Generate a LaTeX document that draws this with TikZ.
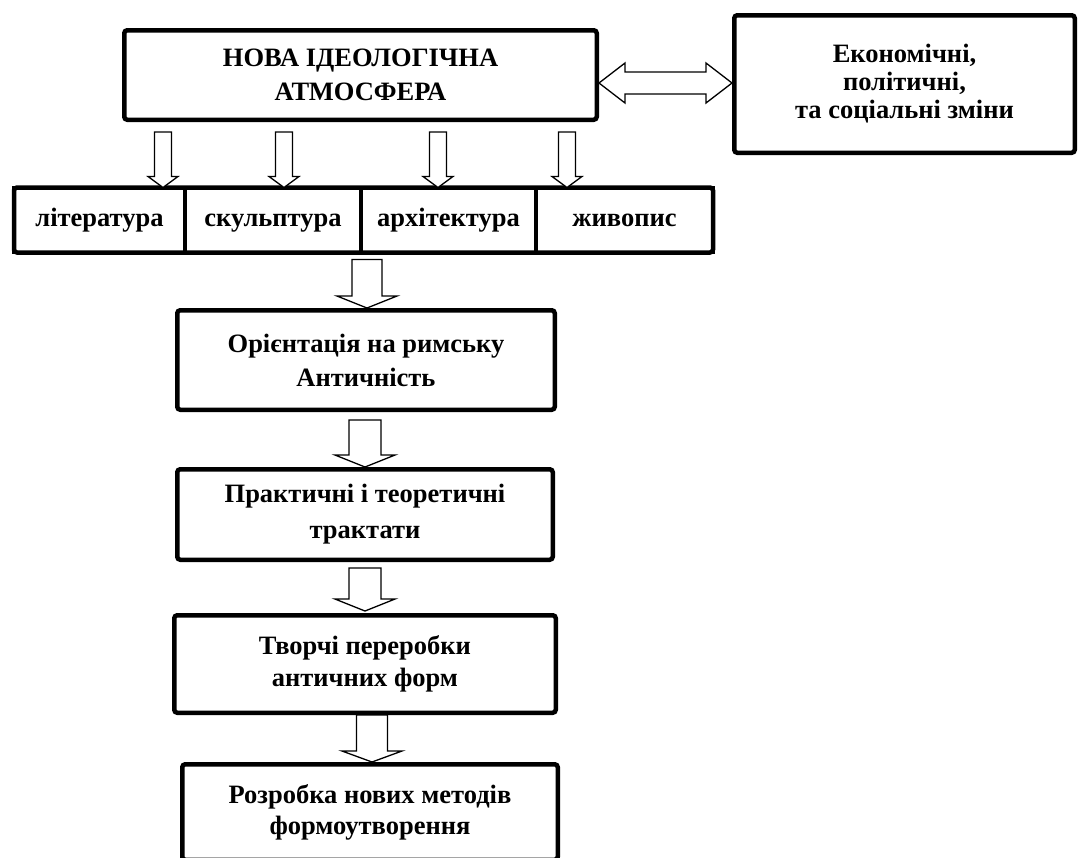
\documentclass[tikz,border=0pt]{standalone}
\usepackage{fontspec}
\setmainfont{Liberation Serif}
\usetikzlibrary{calc, positioning}

\tikzset{
  box/.style={draw, line width=4.5pt, rounded corners=3pt, align=center, inner sep=0pt,
    font=\bfseries\fontsize{26.5}{34}\selectfont},
  cell/.style={draw, line width=3.5pt, outer sep=0pt, inner sep=0pt, minimum height=65pt,
    text height=18pt, text depth=6pt, font=\bfseries\fontsize{26.5}{30}\selectfont},
  hollow/.style={draw, line width=1.3pt, fill=white, line join=miter},
}

% hollow block arrow: start, tip, shaft half width, head half width, head length
\newcommand{\hollowarrow}[5]{%
  \draw[hollow] let \p1=(#1), \p2=(#2) in
    (\x1-#3,\y1) -- (\x1+#3,\y1) -- (\x1+#3,\y2+#5) -- (\x1+#4,\y2+#5)
    -- (\x1,\y2) -- (\x1-#4,\y2+#5) -- (\x1-#3,\y2+#5) -- cycle;}

\begin{document}
\begin{tikzpicture}[x=1pt, y=1pt]
  \useasboundingbox (0,0) rectangle (1079,-857);
  \clip (0,0) rectangle (1079,-857);
  % Top boxes
  \node[box, minimum width=472.5pt, minimum height=89.5pt] (ideo) at (360.5,-75)
    {НОВА ІДЕОЛОГІЧНА\\АТМОСФЕРА};
  \node[box, minimum width=340.5pt, minimum height=137.5pt,
    font=\bfseries\fontsize{26.5}{28}\selectfont] (econ) at (904.5,-84)
    {Економічні,\\політичні,\\та соціальні зміни};
  % Arts row
  \node[cell, minimum width=171pt] (lit) at (99.5,-220) {література};
  \node[cell, minimum width=176pt, right=0pt of lit] (sculp) {скульптура};
  \node[cell, minimum width=175pt, right=0pt of sculp] (arch) {архітектура};
  \node[cell, minimum width=177pt, right=0pt of arch] (paint) {живопис};
  \draw[line width=4.5pt, rounded corners=3pt] (lit.north west) rectangle (paint.south east);
  % Chain of boxes
  \node[box, minimum width=377.5pt, minimum height=99.5pt] (orient) at (366,-360)
    {Орієнтація на римську\\Античність};
  \node[box, minimum width=375.5pt, minimum height=90.5pt, font=\bfseries\fontsize{26.5}{36}\selectfont]
    (pract) at (365,-514.5) {Практичні і теоретичні\\трактати};
  \node[box, minimum width=381.5pt, minimum height=97.5pt, font=\bfseries\fontsize{26.5}{32}\selectfont]
    (creat) at (365,-664) {Творчі переробки\\античних форм};
  \node[box, minimum width=375.5pt, minimum height=95.5pt, font=\bfseries\fontsize{26.5}{31}\selectfont]
    (newm) at (370,-812) {Розробка нових методів\\формоутворення};
  % Double arrow
  \draw[hollow] let \p1=($(ideo.east)+(0,-8)$), \p2=(econ.west) in
    (\x1,\y1) -- (\x1+26pt,\y1+20pt) -- (\x1+26pt,\y1+11pt) -- (\x2-26pt,\y1+11pt)
    -- (\x2-26pt,\y1+20pt) -- (\x2,\y1) -- (\x2-26pt,\y1-20pt) -- (\x2-26pt,\y1-11pt)
    -- (\x1+26pt,\y1-11pt) -- (\x1+26pt,\y1-20pt) -- cycle;
  % Arrows to the arts
  \foreach \dx in {41,162,316,445} {
    \hollowarrow{$(ideo.south west)+(\dx,-10)$}{$(ideo.south west |- lit.north)+(\dx,0)$}{8.5pt}{15pt}{11pt}
  }
  % Arrows down the chain
  \hollowarrow{$(orient.north |- sculp.south)+(1,-7)$}{$(orient.north)+(1,0)$}{15pt}{30pt}{12pt}
  \hollowarrow{$(orient.south)+(-1,-8)$}{$(pract.north)+(0,0)$}{16pt}{30pt}{12pt}
  \hollowarrow{$(pract.south)+(0,-6)$}{$(creat.north)+(0,2)$}{16pt}{30pt}{12pt}
  \hollowarrow{$(creat.south)+(7,0)$}{$(newm.north)+(3,0)$}{15.5pt}{30pt}{11pt}
\end{tikzpicture}
\end{document}
